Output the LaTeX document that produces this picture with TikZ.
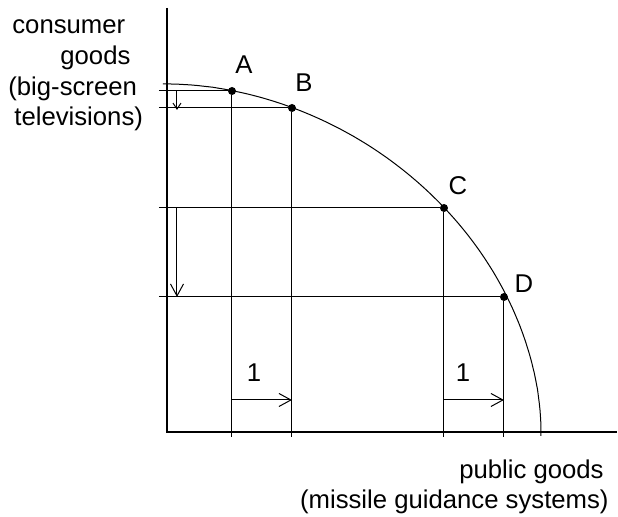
\documentclass[tikz,border=0pt]{standalone}
\usepackage{fontspec}
\setmainfont{Liberation Sans}
\usetikzlibrary{arrows.meta}

\begin{document}
\begin{tikzpicture}[x=0.5pt,y=0.5pt,
        font=\fontsize{12.85}{15.4}\selectfont,
        eje/.style={line width=1pt},
        guia/.style={line width=0.5pt},
        flecha/.style={line width=0.5pt,-{Straight Barb[length=6pt,width=6.5pt]}},
        flechita/.style={line width=0.5pt,-{Straight Barb[length=3pt,width=4pt]}},
        punto/.style={circle,fill,inner sep=0pt,minimum size=4pt},
        etiq/.style={inner sep=0pt}]
    \useasboundingbox (-167,-85) rectangle (451,432);

    % Ejes
    \coordinate (O) at (0,0);
    \coordinate (ytop) at (0,424);
    \coordinate (xend) at (450,0);
    \draw[eje] (ytop) -- (O) -- (xend);
    \node[etiq,anchor=base west,align=left] (ylab) at (-159,306)
        {\hspace*{2pt}consumer\\\hspace*{26pt}goods\\(big-screen\\\hspace*{3pt}televisions)};
    \node[etiq,anchor=base east,align=right] (xlab) at (442,-77)
        {public goods\hspace*{2.5pt}\\(missile guidance systems)};

    % Frontera de posibilidades
    \draw[guia] (-4,348) -- plot[domain=89.8:0.2,samples=120,variable=\t]
        ({374*pow(cos(\t),1.0526)},{348*pow(sin(\t),1.0526)}) -- (374,-4);

    % Puntos A, B, C, D
    \node[punto] (A) at (65,341) {};
    \node[punto] (B) at (125,324) {};
    \node[punto] (C) at (277,224) {};
    \node[punto] (D) at (337,135) {};
    \node[etiq] (labA) at (77,367) {A};
    \node[etiq] (labB) at (137,349) {B};
    \node[etiq] (labC) at (291,246) {C};
    \node[etiq] (labD) at (357,148) {D};

    % Lineas guia
    \foreach \p/\x/\y in {A/65/341,B/125/324,C/277/224,D/337/135}{
        \coordinate (\p y) at (-8,\y);
        \coordinate (\p x) at (\x,-5);
        \draw[guia] (\p y) -- (\p);
        \draw[guia] (\p) -- (\p x);
    }

    % Flechas
    \coordinate (a1) at (10,341);
    \coordinate (a2) at (10,322);
    \coordinate (c1) at (10,224);
    \coordinate (c2) at (10,135);
    \draw[flechita] (a1) -- (a2);
    \draw[flecha] (c1) -- (c2);
    \coordinate (r1) at (65,32);
    \coordinate (r2) at (125,32);
    \coordinate (s1) at (277,32);
    \coordinate (s2) at (337,32);
    \draw[flecha] (r1) -- (r2);
    \draw[flecha] (s1) -- (s2);
    \node[etiq] (uno1) at (87,59) {1};
    \node[etiq] (uno2) at (296,59) {1};
\end{tikzpicture}
\end{document}
